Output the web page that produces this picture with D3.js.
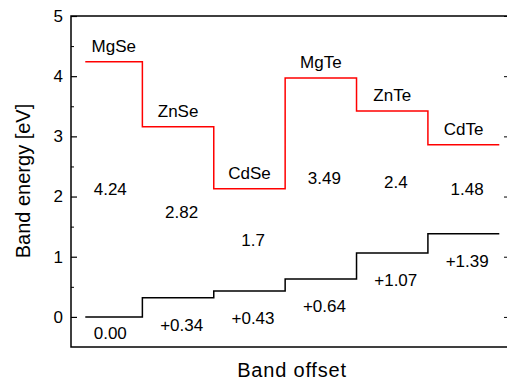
<html>
<head>
  <script src="https://d3js.org/d3.v7.min.js"></script>
  <style>
    body { margin: 0; background: #fff; }
    text { font-family: "Liberation Sans", Arial, sans-serif; fill: #000; }
    .lbl { font-size: 17px; text-anchor: middle; }
    .axis-label { font-size: 20px; text-anchor: middle; }
  </style>
</head>
<body>
  <svg id="chart" width="507" height="381"></svg>
  <script>
    // compounds, step edges (x in cell units), band edges in eV
    const compounds = ["MgSe", "ZnSe", "CdSe", "MgTe", "ZnTe", "CdTe"];
    const stepEdges = [0.2, 1, 2, 3, 4, 5, 6];
    const conduction = [4.24, 3.16, 2.13, 3.97, 3.42, 2.86];
    const valence = [0, 0.32, 0.43, 0.63, 1.06, 1.38];
    const gapLabels = ["4.24", "2.82", "1.7", "3.49", "2.4", "1.48"];
    const offsetLabels = ["0.00", "+0.34", "+0.43", "+0.64", "+1.07", "+1.39"];
    const majorTicks = [0, 1, 2, 3, 4, 5];
    const minorTicks = [0.5, 1.5, 2.5, 3.5, 4.5];

    const svg = d3.select("#chart");
    const pLeft = 71, pRight = 510, pTop = 16, pBottom = 347;

    const x = d3.scaleLinear().domain([0, 6.15]).range([pLeft, pRight]);
    const y = d3.scaleLinear().domain([-0.5, 5]).range([pBottom, pTop]);

    // frame
    svg.append("rect")
      .attr("x", pLeft).attr("y", pTop)
      .attr("width", pRight - pLeft).attr("height", pBottom - pTop)
      .attr("fill", "none").attr("stroke", "#000").attr("stroke-width", 1.5);

    // left axis, ticks inward
    svg.append("g")
      .attr("transform", `translate(${pLeft},0)`)
      .call(d3.axisLeft(y).tickValues(majorTicks).tickSize(-6).tickPadding(8).tickFormat(d3.format("d")))
      .call(g => g.select(".domain").remove())
      .call(g => g.selectAll(".tick line").attr("stroke-width", 1.2))
      .call(g => g.selectAll(".tick text").attr("font-size", 17).attr("font-family", "Liberation Sans, Arial, sans-serif"));
    svg.append("g")
      .attr("transform", `translate(${pLeft},0)`)
      .call(d3.axisLeft(y).tickValues(minorTicks).tickSize(-3).tickFormat(""))
      .call(g => g.select(".domain").remove());

    // right axis, ticks inward, no labels
    svg.append("g")
      .attr("transform", `translate(${pRight},0)`)
      .call(d3.axisRight(y).tickValues(majorTicks).tickSize(-6).tickFormat(""))
      .call(g => g.select(".domain").remove());
    svg.append("g")
      .attr("transform", `translate(${pRight},0)`)
      .call(d3.axisRight(y).tickValues(minorTicks).tickSize(-3).tickFormat(""))
      .call(g => g.select(".domain").remove());

    // step lines
    const stepPoints = vals => vals.map((v, i) => [stepEdges[i], v]).concat([[stepEdges[6], vals[vals.length - 1]]]);
    const line = d3.line().x(d => x(d[0])).y(d => y(d[1])).curve(d3.curveStepAfter);

    svg.append("path")
      .attr("d", line(stepPoints(conduction)))
      .attr("fill", "none").attr("stroke", "#ff0000").attr("stroke-width", 1.5);
    svg.append("path")
      .attr("d", line(stepPoints(valence)))
      .attr("fill", "none").attr("stroke", "#000").attr("stroke-width", 1.5);

    // compound names above the conduction band
    svg.selectAll("text.name")
      .data(compounds)
      .enter().append("text")
      .attr("class", "lbl name")
      .attr("x", (d, i) => x((stepEdges[i] + stepEdges[i + 1]) / 2))
      .attr("y", (d, i) => y(conduction[i]) - 10)
      .text(d => d);

    // gap values between the bands
    svg.selectAll("text.gap")
      .data(gapLabels)
      .enter().append("text")
      .attr("class", "lbl gap")
      .attr("x", (d, i) => x(i + 0.55))
      .attr("y", (d, i) => y((conduction[i] + valence[i]) / 2))
      .attr("dy", "0.35em")
      .text(d => d);

    // valence offsets below the valence band
    svg.selectAll("text.off")
      .data(offsetLabels)
      .enter().append("text")
      .attr("class", "lbl off")
      .attr("x", (d, i) => x(i + 0.55))
      .attr("y", (d, i) => Math.min(y(valence[i]) + 33, 339))
      .text(d => d);

    // axis titles
    svg.append("text")
      .attr("class", "axis-label")
      .attr("x", 292).attr("y", 377)
      .style("letter-spacing", "0.8px")
      .text("Band offset");

    svg.append("text")
      .attr("class", "axis-label")
      .attr("transform", "translate(29.5,181) rotate(-90)")
      .text("Band energy [eV]");
  </script>
</body>
</html>
